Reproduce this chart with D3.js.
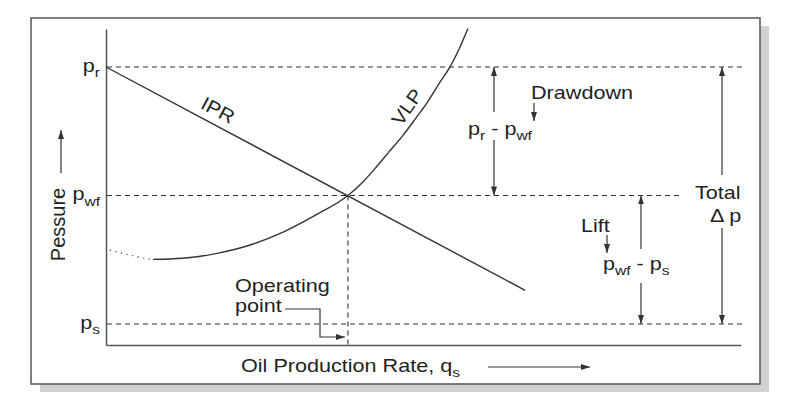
<!DOCTYPE html>
<html><head><meta charset="utf-8">
<script src="https://cdn.jsdelivr.net/npm/d3@7"></script>
<style>body{margin:0;background:#fff}svg{display:block}</style>
</head><body>
<svg id="c" width="800" height="403"></svg>
<script>
// ---- data (pressure units, rate units) ----
const pressureLevels = {pr: 90, pwf: 50, ps: 10};
const pTickNames = ["r", "wf", "s"];
const pTickValues = [90, 50, 10];
const iprQ = [0, 66];
const iprP = [90, 20.5];
const vlpQ = [7.4, 12.1, 17.5, 22.7, 27.9, 33.2, 38.1, 40.3, 42.5, 44.7, 46.8, 48.8, 50.6, 52.4, 54.2, 55.6, 57.0];
const vlpP = [30.1, 30.45, 32.0, 34.6, 38.6, 44.1, 50.0, 53.9, 58.7, 63.9, 68.8, 74.1, 79.0, 84.7, 90.1, 95.6, 102.0];
const vlpDotQ = [0.6, 3.5, 6.1, 7.4];
const vlpDotP = [33.0, 31.6, 30.45, 30.1];
const qOperating = 38.1;

const svg = d3.select("#c");
const INK = "#333", TXT = "#222", FONT = "'Liberation Sans', Arial, Helvetica, sans-serif";

// frame + shadow
svg.append("rect").attr("x",40).attr("y",26).attr("width",729).attr("height",366).attr("fill","#d2d2d2");
svg.append("rect").attr("x",31).attr("y",18).attr("width",729).attr("height",366)
  .attr("fill","#fff").attr("stroke","#555").attr("stroke-width",1.5);

const defs = svg.append("defs");
defs.append("marker").attr("id","ah").attr("markerUnits","userSpaceOnUse")
  .attr("markerWidth",9).attr("markerHeight",6).attr("refX",9).attr("refY",3).attr("orient","auto")
  .append("path").attr("d","M0,0L9,3L0,6Z").attr("fill",INK);

const x = d3.scaleLinear().domain([0,100]).range([106,741]);
const y = d3.scaleLinear().domain([3.46,101.83]).range([345,29]);

// axes (no ticks)
svg.append("g").attr("transform","translate(106,0)")
  .call(d3.axisLeft(y).tickValues([]).tickSizeOuter(0));
svg.append("g").attr("transform","translate(0,345)")
  .call(d3.axisBottom(x).tickValues([]).tickSizeOuter(0));
svg.selectAll(".domain").attr("stroke","#555").attr("stroke-width",1.5);

// dashed levels
const dashEnds = {90: 100.2, 50: 90.7, 10: 100.2};
svg.selectAll("line.lvl").data(pTickValues).join("line").attr("class","lvl")
  .attr("x1",x(0)+1).attr("x2",d=>x(dashEnds[d])).attr("y1",d=>y(d)).attr("y2",d=>y(d))
  .attr("stroke",INK).attr("stroke-width",1.1).attr("stroke-dasharray","5,4");
// operating point vertical
svg.append("line").attr("x1",x(qOperating)).attr("x2",x(qOperating))
  .attr("y1",y(pressureLevels.pwf)).attr("y2",y(3.46))
  .attr("stroke",INK).attr("stroke-width",1.1).attr("stroke-dasharray","5,4");

// IPR
const line = d3.line().x(d=>x(d[0])).y(d=>y(d[1]));
svg.append("path").attr("d", line(d3.zip(iprQ,iprP)))
  .attr("fill","none").attr("stroke",INK).attr("stroke-width",1.4);
// VLP
const curve = d3.line().x(d=>x(d[0])).y(d=>y(d[1])).curve(d3.curveMonotoneX);
svg.append("path").attr("d", curve(d3.zip(vlpQ,vlpP)))
  .attr("fill","none").attr("stroke",INK).attr("stroke-width",1.4);
svg.append("path").attr("d", curve(d3.zip(vlpDotQ,vlpDotP)))
  .attr("fill","none").attr("stroke",INK).attr("stroke-width",1.1).attr("stroke-dasharray","1.2,4.5");

// text helper
function label(px, py, parts, opts={}){
  const size = opts.size || 18;
  const t = svg.append("text")
    .attr("transform", opts.transform || `translate(${px},${py}) scale(1.2,1)`)
    .attr("font-family",FONT).attr("font-size",size).attr("fill",TXT)
    .attr("text-anchor", opts.anchor || "start");
  let shift = 0;
  parts.forEach(p=>{
    const sub = p.sub;
    const ts = t.append("tspan").text(p.t);
    const target = sub ? 5 : 0;
    if (target !== shift){ ts.attr("dy", target - shift); shift = target; }
    if (sub) ts.attr("font-size", size*0.72);
  });
  return t;
}

// y tick labels
pTickValues.forEach((v,i)=>{
  label(100, y(v)+5, [{t:"p"},{t:pTickNames[i],sub:true}], {anchor:"end"});
});

// axis titles
label(241, 372, [{t:"Oil Production Rate, q"},{t:"s",sub:true}]);
svg.append("line").attr("x1",488).attr("x2",590).attr("y1",367).attr("y2",367)
  .attr("stroke",INK).attr("stroke-width",1.2).attr("marker-end","url(#ah)");
label(0,0,[{t:"Pessure"}],{transform:"translate(65,224.5) rotate(-90)",anchor:"middle",size:20});
svg.append("line").attr("x1",61).attr("x2",61).attr("y1",173).attr("y2",130)
  .attr("stroke",INK).attr("stroke-width",1.2).attr("marker-end","url(#ah)");

// curve labels
label(0,0,[{t:"IPR"}],{transform:"translate(218,110) rotate(28) scale(1.1,1)",anchor:"middle",size:19}).attr("dy","0.35em");
label(0,0,[{t:"VLP"}],{transform:"translate(407,107) rotate(-55) scale(1.1,1)",anchor:"middle",size:19}).attr("dy","0.35em");

// Operating point
label(235, 292, [{t:"Operating"}]);
label(235, 312, [{t:"point"}]);
svg.append("path").attr("d", `M285,309H320V337H${x(qOperating)-3}`)
  .attr("fill","none").attr("stroke",INK).attr("stroke-width",1.2).attr("marker-end","url(#ah)");

function vArrow(px, y1, y2){
  svg.append("line").attr("x1",px).attr("x2",px).attr("y1",y1).attr("y2",y2)
    .attr("stroke",INK).attr("stroke-width",1.2).attr("marker-end","url(#ah)");
}
const yr = y(pressureLevels.pr), yw = y(pressureLevels.pwf), ys = y(pressureLevels.ps);

// Drawdown
vArrow(494, 112, yr); vArrow(494, 140, yw);
label(468, 135, [{t:"p"},{t:"r",sub:true},{t:" - p"},{t:"wf",sub:true}]);
label(531, 99, [{t:"Drawdown"}]);
vArrow(534, 103, 121);

// Lift
vArrow(641, 249, yw); vArrow(641, 283, ys);
label(603, 270, [{t:"p"},{t:"wf",sub:true},{t:" - p"},{t:"s",sub:true}]);
label(581, 232, [{t:"Lift"}]);
vArrow(607, 235, 253);

// Total
vArrow(722, 175, yr); vArrow(722, 228, ys);
label(695, 199, [{t:"Total"}]);
label(710, 222, [{t:"Δ p"}]);
</script>
</body></html>
